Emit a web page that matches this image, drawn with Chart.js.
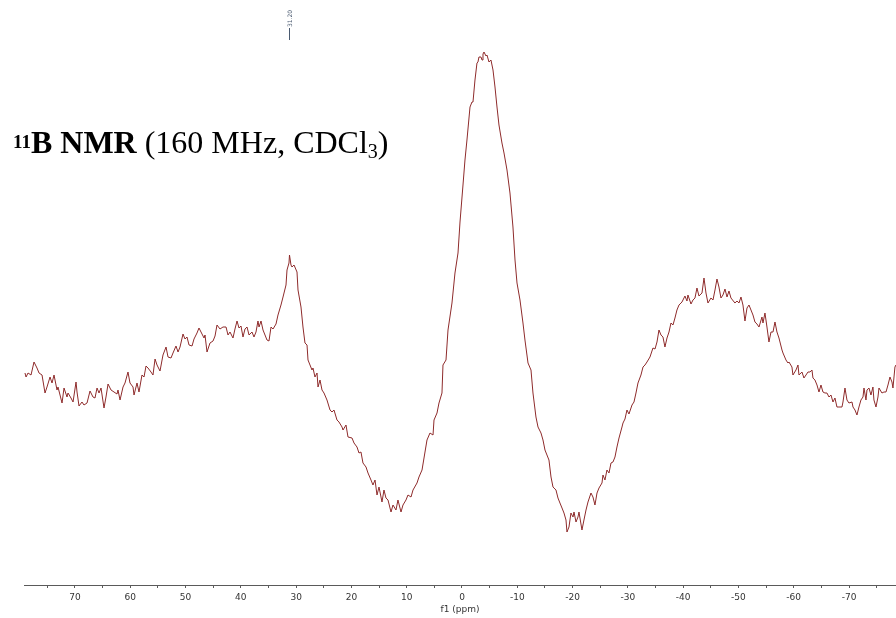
<!DOCTYPE html>
<html>
<head>
<meta charset="utf-8">
<title>11B NMR (160 MHz, CDCl3)</title>
<script src="https://cdn.jsdelivr.net/npm/chart.js@4"></script>
<style>
  html, body { margin: 0; padding: 0; background: #ffffff; }
  #wrap { width: 896px; height: 618px; }
</style>
</head>
<body>
<div id="wrap"><canvas id="nmr" width="896" height="618"></canvas></div>
<script>
// Chemical shift (ppm) of each sampled point
const shiftPpm = [
  79.04, 78.85, 78.49, 77.95, 77.41, 76.87, 76.50, 75.96, 75.42, 75.06,
  74.51, 74.15, 73.79, 73.25, 73.07, 72.34, 71.98, 71.44, 71.26, 70.72,
  70.35, 69.81, 69.63, 69.27, 68.73, 68.37, 67.82, 67.28, 66.74, 66.38,
  66.01, 65.65, 65.29, 64.75, 64.39, 64.02, 63.48, 62.94, 62.40, 62.22,
  61.85, 61.31, 60.95, 60.41, 60.05, 59.50, 59.32, 58.78, 58.42, 57.88,
  57.51, 57.15, 56.79, 56.25, 55.89, 55.52, 55.16, 54.62, 54.08, 53.53,
  53.17, 52.63, 52.27, 51.73, 51.36, 51.00, 50.46, 50.10, 49.74, 49.37,
  48.83, 48.47, 47.93, 47.57, 47.02, 46.66, 46.48, 46.12, 45.58, 45.03,
  44.67, 44.31, 43.77, 43.23, 42.68, 42.32, 41.96, 41.42, 41.06, 40.69,
  40.33, 39.97, 39.61, 39.25, 38.88, 38.52, 37.98, 37.62, 37.26, 36.90,
  36.71, 36.35, 35.99, 35.27, 34.91, 34.54, 34.18, 33.64, 33.28, 32.74,
  32.37, 31.83, 31.65, 31.29, 31.20, 30.93, 30.75, 30.38, 29.84, 29.66,
  29.12, 28.76, 28.40, 28.03, 27.85, 27.49, 27.13, 26.95, 26.59, 26.22,
  26.04, 25.68, 25.32, 24.96, 24.42, 23.87, 23.51, 23.15, 22.61, 22.25,
  21.70, 21.52, 20.98, 20.62, 19.89, 19.53, 18.99, 18.63, 18.27, 17.91,
  17.36, 17.00, 16.46, 16.10, 15.73, 15.37, 15.01, 14.47, 14.11, 13.75,
  13.38, 12.84, 12.48, 11.94, 11.58, 11.03, 10.67, 10.13, 9.77, 9.22,
  8.86, 8.14, 7.78, 7.23, 6.87, 6.33, 5.79, 5.24, 5.06, 4.52,
  4.16, 3.62, 3.44, 2.89, 2.53, 1.81, 1.27, 0.72, 0.36, -0.18,
  -0.54, -0.90, -1.45, -1.81, -1.99, -2.35, -2.71, -2.89, -3.07, -3.44,
  -3.62, -3.80, -3.98, -4.34, -4.52, -4.88, -5.24, -5.61, -5.97, -6.33,
  -6.69, -7.23, -7.60, -8.14, -8.68, -9.22, -9.59, -9.95, -10.49, -11.03,
  -11.39, -11.94, -12.48, -12.84, -13.38, -13.75, -14.29, -14.65, -15.01, -15.37,
  -15.73, -16.10, -16.46, -17.00, -17.36, -17.72, -18.09, -18.45, -18.81, -18.99,
  -19.35, -19.71, -20.08, -20.26, -20.62, -20.98, -21.16, -21.70, -22.06, -22.43,
  -22.79, -23.33, -23.69, -24.05, -24.42, -24.78, -25.32, -25.50, -25.86, -26.22,
  -26.59, -26.95, -27.31, -27.67, -28.03, -28.40, -28.94, -29.12, -29.48, -29.84,
  -30.20, -30.75, -31.11, -31.47, -31.83, -32.37, -32.74, -33.10, -33.46, -34.00,
  -34.54, -34.91, -35.27, -35.63, -35.99, -36.35, -36.71, -37.08, -37.44, -37.80,
  -38.16, -38.52, -38.88, -39.25, -39.79, -40.33, -40.69, -40.87, -41.42, -41.78,
  -42.14, -42.50, -42.86, -43.41, -43.77, -44.13, -44.49, -45.03, -45.40, -45.76,
  -46.12, -46.48, -46.84, -47.20, -47.57, -47.93, -48.29, -48.65, -49.37, -49.74,
  -50.10, -50.46, -50.82, -51.18, -51.55, -51.91, -52.27, -52.63, -52.99, -53.35,
  -53.72, -54.26, -54.44, -54.80, -55.16, -55.52, -55.89, -56.25, -56.61, -56.97,
  -57.33, -57.88, -58.06, -58.60, -58.96, -59.14, -59.68, -59.86, -60.41, -60.77,
  -60.95, -61.49, -61.85, -62.22, -62.58, -62.94, -63.30, -63.48, -63.84, -64.21,
  -64.57, -64.93, -65.29, -65.65, -66.01, -66.38, -66.74, -67.10, -67.46, -67.82,
  -68.18, -68.73, -68.91, -69.27, -69.63, -69.99, -70.54, -70.72, -71.08, -71.44,
  -71.80, -72.16, -72.53, -72.71, -73.07, -73.25, -73.61, -73.97, -74.33, -74.51,
  -74.88, -75.24, -75.42, -75.96, -76.32, -76.69, -77.05, -77.41, -77.77, -77.95,
  -78.31, -78.49
];

// Signal intensity (arbitrary units) at each shift above
const intensity = [
  212, 208, 212, 210, 223, 217, 212, 210, 192, 198,
  208, 202, 210, 195, 198, 182, 197, 188, 192, 187,
  183, 203, 193, 179, 183, 180, 182, 194, 188, 187,
  197, 192, 197, 177, 188, 201, 195, 193, 191, 195,
  185, 198, 202, 213, 202, 198, 190, 202, 193, 210,
  208, 219, 217, 213, 210, 226, 220, 214, 230, 238,
  228, 227, 232, 239, 233, 238, 251, 246, 248, 240,
  239, 246, 252, 257, 251, 247, 250, 233, 242, 244,
  249, 260, 256, 258, 258, 250, 253, 247, 256, 264,
  257, 259, 248, 256, 258, 250, 253, 248, 253, 264,
  258, 264, 255, 245, 244, 258, 256, 261, 270, 280,
  288, 300, 315, 322, 330, 320, 318, 320, 313, 295,
  278, 258, 242, 240, 225, 220, 215, 217, 208, 212,
  198, 205, 195, 192, 185, 175, 173, 175, 165, 163,
  158, 155, 160, 148, 147, 142, 138, 132, 133, 122,
  118, 112, 105, 100, 105, 90, 98, 83, 95, 87,
  85, 73, 80, 75, 85, 73, 80, 85, 90, 88,
  95, 102, 108, 115, 127, 145, 152, 150, 165, 172,
  182, 192, 220, 225, 255, 282, 312, 332, 363, 400,
  425, 445, 478, 483, 483, 505, 522, 523, 528, 528,
  525, 531, 533, 529, 530, 523, 525, 515, 498, 478,
  460, 442, 432, 415, 392, 358, 325, 302, 285, 262,
  245, 222, 215, 192, 168, 158, 152, 145, 135, 130,
  125, 108, 98, 95, 87, 82, 77, 72, 65, 53,
  58, 72, 68, 73, 63, 68, 73, 55, 65, 75,
  83, 92, 88, 80, 92, 97, 102, 110, 105, 115,
  112, 122, 123, 128, 138, 147, 158, 162, 166, 175,
  171, 180, 183, 192, 202, 210, 218, 220, 223, 228,
  237, 236, 243, 255, 250, 248, 238, 247, 253, 262,
  260, 267, 275, 280, 283, 289, 284, 290, 281, 285,
  287, 297, 289, 292, 307, 292, 282, 287, 285, 295,
  306, 298, 287, 290, 296, 288, 294, 287, 282, 284,
  282, 288, 280, 264, 277, 280, 275, 270, 263, 261,
  258, 268, 262, 272, 258, 243, 253, 253, 263, 253,
  247, 235, 232, 225, 222, 223, 218, 210, 215, 220,
  210, 213, 207, 210, 213, 213, 215, 207, 205, 200,
  193, 200, 193, 192, 192, 188, 190, 183, 187, 178,
  178, 178, 183, 197, 185, 182, 183, 178, 175, 170,
  178, 185, 188, 197, 185, 195, 197, 190, 198, 185,
  178, 188, 197, 192, 193, 193, 200, 208, 203, 197,
  218, 220
];

// Axis ticks every 5 ppm; only multiples of 10 carry a label
const axisTicks = [75, 70, 65, 60, 55, 50, 45, 40, 35, 30, 25, 20, 15, 10, 5, 0,
  -5, -10, -15, -20, -25, -30, -35, -40, -45, -50, -55, -60, -65, -70, -75];

// Picked peak positions (ppm)
const peakPicks = [31.20];

const ppmRange = { min: -78.50, max: 79.22 };
const intensityRange = { min: 0, max: 585 };

const points = shiftPpm.map((x, i) => ({ x: x, y: intensity[i] }));

const SERIF = '"Liberation Serif", "Times New Roman", serif';

// Heading with superscript mass number and subscript count
const headingPlugin = {
  id: 'heading',
  afterDraw(chart) {
    const ctx = chart.ctx;
    const base = 153;
    let x = 13;
    const runs = [
      { t: '11', font: 'bold 19px ' + SERIF, dy: -5 },
      { t: 'B NMR', font: 'bold 32px ' + SERIF, dy: 0 },
      { t: ' (160 MHz, CDCl', font: '32px ' + SERIF, dy: 0 },
      { t: '3', font: '20px ' + SERIF, dy: 5 },
      { t: ')', font: '32px ' + SERIF, dy: 0 }
    ];
    ctx.save();
    ctx.fillStyle = '#000000';
    ctx.textBaseline = 'alphabetic';
    ctx.textAlign = 'left';
    runs.forEach(r => {
      ctx.font = r.font;
      ctx.fillText(r.t, x, base + r.dy);
      x += ctx.measureText(r.t).width;
    });
    ctx.restore();
  }
};

// Vertical peak-pick labels above the spectrum
const peakPickPlugin = {
  id: 'peakPick',
  afterDraw(chart) {
    const ctx = chart.ctx;
    const xs = chart.scales.x;
    ctx.save();
    ctx.strokeStyle = '#4a5a70';
    ctx.fillStyle = '#4a5a70';
    ctx.lineWidth = 1;
    ctx.font = '6px "DejaVu Sans", sans-serif';
    peakPicks.forEach(p => {
      const px = Math.round(xs.getPixelForValue(p)) + 0.5;
      ctx.beginPath();
      ctx.moveTo(px, 28);
      ctx.lineTo(px, 40);
      ctx.stroke();
      ctx.save();
      ctx.translate(px + 0.5, 27);
      ctx.rotate(-Math.PI / 2);
      ctx.textAlign = 'left';
      ctx.textBaseline = 'middle';
      ctx.fillText(p.toFixed(2), 0, 0);
      ctx.restore();
    });
    ctx.restore();
  }
};

new Chart(document.getElementById('nmr'), {
  type: 'line',
  data: {
    datasets: [{
      data: points,
      borderColor: '#8e2b2b',
      borderWidth: 1,
      pointRadius: 0,
      tension: 0,
      fill: false
    }]
  },
  options: {
    responsive: false,
    animation: false,
    devicePixelRatio: 1,
    layout: { padding: { left: 24, right: 0, top: 0, bottom: 0 } },
    plugins: { legend: { display: false }, tooltip: { enabled: false } },
    scales: {
      x: {
        type: 'linear',
        reverse: true,
        min: ppmRange.min,
        max: ppmRange.max,
        afterBuildTicks(scale) {
          scale.ticks = axisTicks.map(v => ({ value: v }));
        },
        afterFit(scale) {
          scale.height = 33;
        },
        grid: {
          drawOnChartArea: false,
          drawTicks: true,
          tickLength: 3,
          color: '#5a5a5a',
          lineWidth: 1
        },
        border: { display: true, color: '#5a5a5a', width: 1 },
        ticks: {
          autoSkip: false,
          maxRotation: 0,
          padding: 4,
          color: '#333333',
          font: { family: '"DejaVu Sans", Verdana, sans-serif', size: 9 },
          callback: (v) => (v % 10 === 0 ? String(v) : '')
        },
        title: {
          display: true,
          text: 'f1 (ppm)',
          color: '#333333',
          font: { family: '"DejaVu Sans", Verdana, sans-serif', size: 9 },
          padding: { top: 0, bottom: 3 }
        }
      },
      y: {
        display: false,
        min: intensityRange.min,
        max: intensityRange.max
      }
    }
  },
  plugins: [headingPlugin, peakPickPlugin]
});
</script>
</body>
</html>
